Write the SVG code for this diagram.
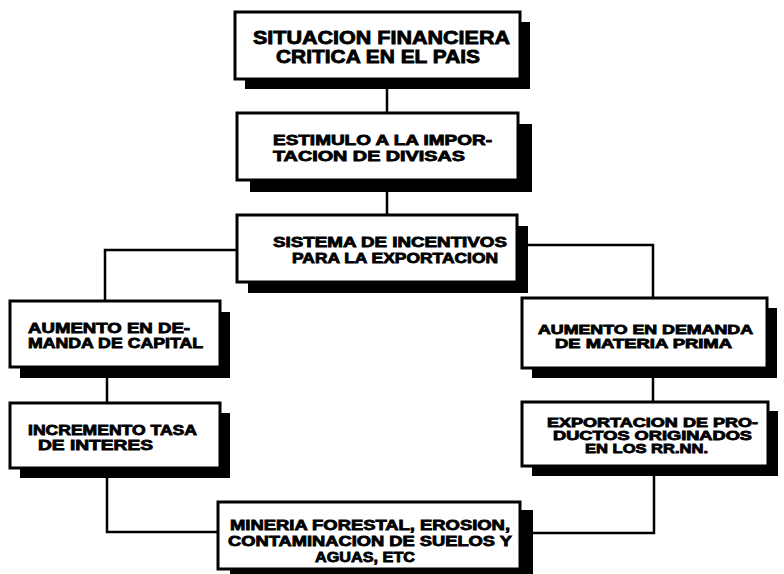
<svg xmlns="http://www.w3.org/2000/svg" width="784" height="574" viewBox="0 0 784 574">
<style>
.sh{fill:#000}
.bx{fill:#fff;stroke:#000;stroke-width:3}
.ln{fill:none;stroke:#000;stroke-width:2.5}
text{font-family:"Liberation Sans",Arial,sans-serif;font-weight:bold;fill:#000;stroke:#000;stroke-width:0.8}
.t{font-size:14px}
.s{font-size:12.5px}
.big{font-size:18px}
</style>
<rect width="784" height="574" fill="#fff"/>
<g id="connectors">
<path class="ln" d="M387,79 V113"/>
<path class="ln" d="M387,180 V215"/>
<path class="ln" d="M237,250 H105 V301"/>
<path class="ln" d="M517,245 H653 V298"/>
<path class="ln" d="M107,367 V403"/>
<path class="ln" d="M653,368 V402"/>
<path class="ln" d="M107,468 V532 H218"/>
<path class="ln" d="M654,466 V533 H520"/>
</g>
<g id="n1">
<rect class="sh" x="245" y="22" width="285" height="67"/>
<rect class="bx" x="235" y="12" width="285" height="67"/>
<text class="big" x="253" y="44" textLength="257" lengthAdjust="spacingAndGlyphs">SITUACION FINANCIERA</text>
<text class="big" x="276" y="63" textLength="204" lengthAdjust="spacingAndGlyphs">CRITICA EN EL PAIS</text>
</g>
<g id="n2">
<rect class="sh" x="250" y="124" width="282" height="68"/>
<rect class="bx" x="237" y="113" width="281" height="67"/>
<text class="t" x="273" y="145" textLength="219" lengthAdjust="spacingAndGlyphs">ESTIMULO A LA IMPOR-</text>
<text class="t" x="273" y="161" textLength="192" lengthAdjust="spacingAndGlyphs">TACION DE DIVISAS</text>
</g>
<g id="n3">
<rect class="sh" x="248" y="226" width="280" height="67"/>
<rect class="bx" x="237" y="215" width="280" height="67"/>
<text class="t" x="273" y="247" textLength="234" lengthAdjust="spacingAndGlyphs">SISTEMA DE INCENTIVOS</text>
<text class="t" x="292" y="263" textLength="206" lengthAdjust="spacingAndGlyphs">PARA LA EXPORTACION</text>
</g>
<g id="n4">
<rect class="sh" x="20" y="312" width="210" height="66"/>
<rect class="bx" x="10" y="301" width="210" height="66"/>
<text class="t" x="28" y="333" textLength="162" lengthAdjust="spacingAndGlyphs">AUMENTO EN DE-</text>
<text class="t" x="28" y="348" textLength="175" lengthAdjust="spacingAndGlyphs">MANDA DE CAPITAL</text>
</g>
<g id="n5">
<rect class="sh" x="20" y="413" width="210" height="65"/>
<rect class="bx" x="10" y="403" width="210" height="65"/>
<text class="t" x="28" y="435" textLength="169" lengthAdjust="spacingAndGlyphs">INCREMENTO TASA</text>
<text class="t" x="38" y="450" textLength="115" lengthAdjust="spacingAndGlyphs">DE INTERES</text>
</g>
<g id="n6">
<rect class="sh" x="532" y="308" width="245" height="70"/>
<rect class="bx" x="522" y="298" width="245" height="70"/>
<text class="s" x="538" y="334" textLength="215" lengthAdjust="spacingAndGlyphs">AUMENTO EN DEMANDA</text>
<text class="s" x="555" y="348" textLength="177" lengthAdjust="spacingAndGlyphs">DE MATERIA PRIMA</text>
</g>
<g id="n7">
<rect class="sh" x="532" y="411" width="246" height="65"/>
<rect class="bx" x="522" y="402" width="246" height="64"/>
<text class="s" x="547" y="427" textLength="211" lengthAdjust="spacingAndGlyphs">EXPORTACION DE PRO-</text>
<text class="s" x="553" y="440" textLength="199" lengthAdjust="spacingAndGlyphs">DUCTOS ORIGINADOS</text>
<text class="s" x="585" y="453" textLength="123" lengthAdjust="spacingAndGlyphs">EN LOS RR.NN.</text>
</g>
<g id="n8">
<rect class="sh" x="230" y="510" width="303" height="70"/>
<rect class="bx" x="218" y="502" width="302" height="67"/>
<text class="t" x="230" y="530" textLength="280" lengthAdjust="spacingAndGlyphs">MINERIA FORESTAL, EROSION,</text>
<text class="t" x="228" y="546" textLength="284" lengthAdjust="spacingAndGlyphs">CONTAMINACION DE SUELOS Y</text>
<text class="t" x="315" y="562" textLength="100" lengthAdjust="spacingAndGlyphs">AGUAS, ETC</text>
</g>
</svg>
